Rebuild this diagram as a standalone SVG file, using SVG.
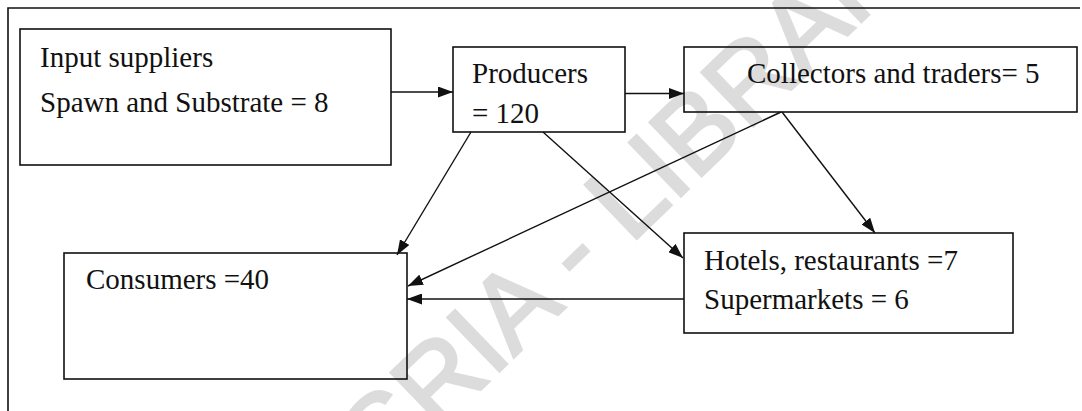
<svg xmlns="http://www.w3.org/2000/svg" width="1082" height="411" viewBox="0 0 1082 411">
  <style>
    .box { fill: none; stroke: #111; stroke-width: 1.6; }
    .lbl { font-family: "Liberation Serif", "Times New Roman", serif; font-size: 29px; fill: #111; }
    .edge { fill: none; stroke: #111; stroke-width: 1.4; marker-end: url(#arrow); }
    .frame { fill: none; stroke: #111; stroke-width: 1.6; }
    .wm { font-family: "Liberation Sans", Arial, sans-serif; font-size: 108px; fill: #dcdcdc; stroke: #dcdcdc; stroke-width: 3; }
  </style>
  <defs>
    <marker id="arrow" markerUnits="userSpaceOnUse" markerWidth="15" markerHeight="11" refX="15" refY="5.5" orient="auto">
      <path d="M0,0 L15,5.5 L0,11 z" fill="#111"/>
    </marker>
  </defs>
  <rect width="1082" height="411" fill="#fff"/>

  <!-- background stamp -->
  <text class="wm" transform="translate(580,253) rotate(-44)" x="-612" y="29">CODESRIA - LIBRARY</text>

  <!-- page frame -->
  <path class="frame" d="M8,411 V8 H1080"/>

  <g id="input-suppliers">
    <rect class="box" x="20" y="29" width="371" height="136"/>
    <text class="lbl" x="40" y="67">Input suppliers</text>
    <text class="lbl" x="40" y="112">Spawn and Substrate = 8</text>
  </g>

  <g id="producers">
    <rect class="box" x="453" y="47" width="172" height="85"/>
    <text class="lbl" x="472" y="83">Producers</text>
    <text class="lbl" x="472" y="123">= 120</text>
  </g>

  <g id="collectors">
    <rect class="box" x="684" y="47" width="393" height="65"/>
    <text class="lbl" x="747" y="83">Collectors and traders= 5</text>
  </g>

  <g id="hotels">
    <rect class="box" x="684" y="233" width="329" height="100"/>
    <text class="lbl" x="704" y="270">Hotels, restaurants =7</text>
    <text class="lbl" x="704" y="309">Supermarkets = 6</text>
  </g>

  <g id="consumers">
    <rect class="box" x="64" y="253" width="343" height="126"/>
    <text class="lbl" x="86" y="289">Consumers =40</text>
  </g>

  <g id="connectors">
    <path class="edge" d="M391,92 H453"/>
    <path class="edge" d="M625,93.5 H684"/>
    <path class="edge" d="M471,132 L397,255"/>
    <path class="edge" d="M543,132 L683,258"/>
    <path class="edge" d="M782,112 L875,233"/>
    <path class="edge" d="M781,112 L408,286"/>
    <path class="edge" d="M684,299 H407"/>
  </g>
</svg>
